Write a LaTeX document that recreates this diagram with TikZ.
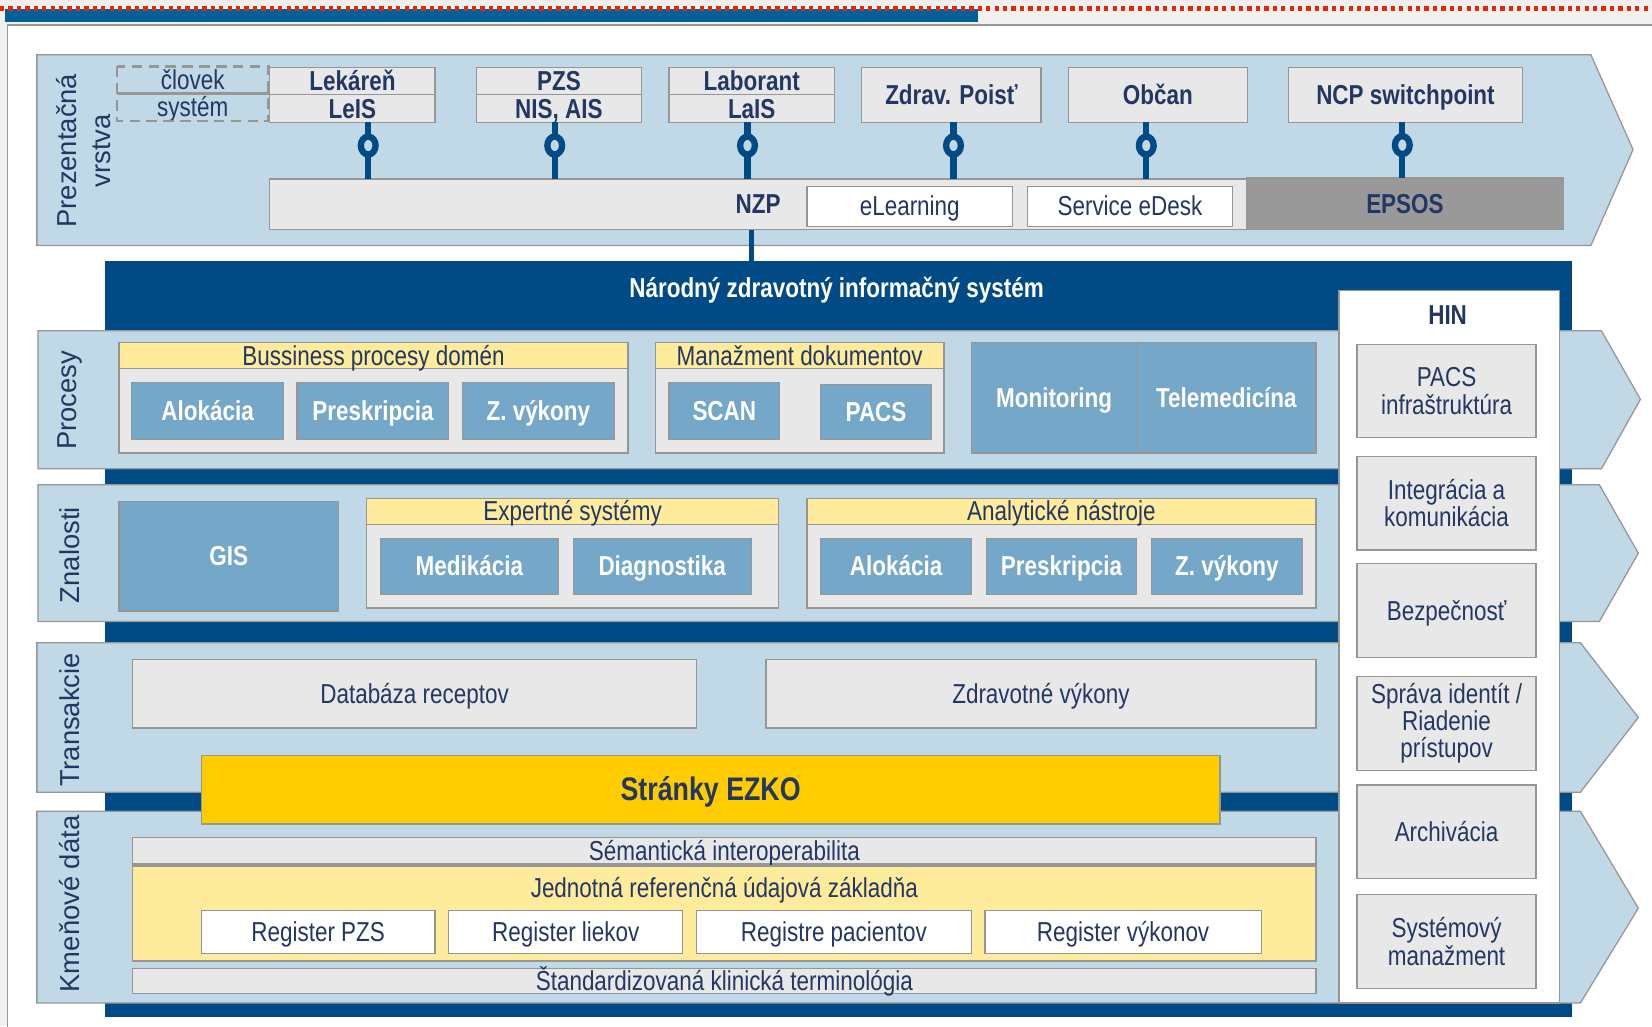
\documentclass[tikz,border=0pt]{standalone}
\usepackage{fontspec}
\setmainfont{Liberation Sans}[FakeStretch=0.82]
\newfontfamily\widesans{Liberation Sans}
\usetikzlibrary{shapes.geometric}

\definecolor{layerblue}{RGB}{193,216,230}
\definecolor{navy}{RGB}{0,74,134}
\definecolor{steel}{RGB}{116,167,200}
\definecolor{boxgray}{RGB}{232,232,232}
\definecolor{hdryellow}{RGB}{255,235,156}
\definecolor{ezkoyellow}{RGB}{255,204,0}
\definecolor{epsosgray}{RGB}{153,153,153}
\definecolor{inkblue}{RGB}{35,55,100}
\definecolor{linegray}{RGB}{150,150,150}
\definecolor{chrome}{RGB}{240,240,240}
\definecolor{barblue}{RGB}{0,96,154}
\definecolor{dotred}{RGB}{230,40,0}

\tikzset{
  sz/.style 2 args={minimum width=#1pt, minimum height=#2pt},
  txt/.style={inner sep=0pt, outer sep=0pt, text=inkblue, align=center, font=\fontsize{26}{26}\selectfont},
  boxbase/.style={txt, draw=linegray, line width=1.2pt},
  gbox/.style={boxbase, fill=boxgray},
  wbox/.style={boxbase, fill=white},
  ybox/.style={boxbase, fill=hdryellow},
  bbox/.style={boxbase, fill=steel, text=white, font=\fontsize{26}{26}\selectfont\bfseries},
  heavy/.style={font=\fontsize{26}{26}\selectfont\bfseries},
  oneline/.style={text height=21pt, text depth=3pt},
  lbl/.style={inner sep=0pt, text=inkblue, rotate=90, align=center, font=\widesans\fontsize{26}{32}\selectfont},
  layer/.style={fill=layerblue, draw=linegray, line width=1.2pt},
  link/.style={draw=navy, line width=6pt},
  ring/.style={ellipse, draw=navy, line width=6pt, fill=layerblue, minimum width=14pt, minimum height=17pt, inner sep=0pt}
}

\begin{document}
\begin{tikzpicture}[x=1pt, y=-1pt]
\useasboundingbox (0,0) rectangle (1568,974);

% window frame
\fill[chrome] (0,0) rectangle (1568,974);
\filldraw[fill=white, draw=linegray, line width=1.5pt] (7,24) rectangle (1580,990);
\fill[barblue] (5,9) rectangle (928,21);
\draw[dotred, line width=4pt, dash pattern=on 4pt off 4pt] (0,8) -- (1568,8);

% prezentacna vrstva
\draw[layer] (35,52) -- (1510,52) -- (1550,142) -- (1510,233) -- (35,233) -- cycle;
\node[lbl] (prez) at (79,143) {Prezentačná\\vrstva};
\node[txt, oneline, sz={144}{26}] (clov) at (183,76) {človek};
\node[txt, oneline, sz={144}{26}] (syst) at (183,102) {systém};
\draw[linegray, line width=2.5pt, dash pattern=on 10pt off 6pt] (clov.north west) rectangle (syst.south east);
\draw[linegray, line width=2.5pt] (clov.south west) -- (clov.south east);
\node[gbox, heavy, oneline, sz={157}{26}] (lek) at (334.5,77) {Lekáreň};
\node[gbox, heavy, oneline, sz={157}{26}] (leis) at (334.5,103) {LeIS};
\node[gbox, heavy, oneline, sz={157}{26}] (pzs) at (530.5,77) {PZS};
\node[gbox, heavy, oneline, sz={157}{26}] (nis) at (530.5,103) {NIS, AIS};
\node[gbox, heavy, oneline, sz={157}{26}] (lab) at (713.5,77) {Laborant};
\node[gbox, heavy, oneline, sz={157}{26}] (lais) at (713.5,103) {LaIS};
\node[gbox, heavy, oneline, sz={170}{52}] (poist) at (903,90) {Zdrav. Poisť};
\node[gbox, heavy, oneline, sz={170}{52}] (obcan) at (1099,90) {Občan};
\node[gbox, heavy, oneline, sz={222}{52}] (ncp) at (1334,90) {NCP switchpoint};
\node[gbox, heavy, oneline, sz={927}{48}] (nzp) at (719.5,194) {NZP};
\node[wbox, oneline, sz={195}{38}] (elearn) at (863.5,196) {eLearning};
\node[wbox, oneline, sz={195}{38}] (edesk) at (1072.5,196) {Service eDesk};
\node[boxbase, heavy, oneline, fill=epsosgray, sz={301}{49}] (epsos) at (1333.5,193.5) {EPSOS};

\foreach \b/\dx in {leis/15, nis/-4, lais/-4, poist/2, obcan/-11}
  \draw[link] ([xshift=\dx pt]\b.south) coordinate (top) -- (top |- nzp.north) node[ring, pos=.41] {};
\draw[link] ([xshift=-3pt]ncp.south) coordinate (top) -- (top |- epsos.north) node[ring, pos=.41] {};

% NZIS
\node[fill=navy, sz={1392}{717}, inner sep=0pt] (nzis) at (796,606.5) {};
\node[txt, heavy, oneline, text=white] (nzist) at (794,273) {Národný zdravotný informačný systém};
\draw[link, line width=5pt] ([xshift=-6.5pt]nzp.south) coordinate (bot) -- (bot |- nzis.north);

% vrstvy
\draw[layer] (36,314) -- (1520,314) -- (1557,379) -- (1520,445) -- (36,445) -- cycle;
\node[lbl] (proc) at (66,380) {Procesy};
\draw[layer] (36,460) -- (1518,460) -- (1555,525) -- (1518,590) -- (36,590) -- cycle;
\node[lbl] (znal) at (66,527) {Znalosti};
\draw[layer] (35,610) -- (1500,610) -- (1555,681) -- (1500,752) -- (35,752) -- cycle;
\node[lbl] (trans) at (66,683) {Transakcie};
\draw[layer] (35,770) -- (1500,770) -- (1555,862) -- (1500,952) -- (35,952) -- cycle;
\node[lbl] (kmen) at (66,858) {Kmeňové dáta};

% procesy
\node[gbox, sz={483}{105}] (bpd) at (354.5,377.5) {};
\node[ybox, oneline, sz={483}{25}] (bpdh) at (354.5,337.5) {Bussiness procesy domén};
\node[bbox, oneline, sz={144}{54}] (alok1) at (197,390) {Alokácia};
\node[bbox, oneline, sz={144}{54}] (presk1) at (354,390) {Preskripcia};
\node[bbox, oneline, sz={144}{54}] (zvyk1) at (511,390) {Z. výkony};
\node[gbox, sz={274}{105}] (mdok) at (759,377.5) {};
\node[ybox, oneline, sz={274}{25}] (mdokh) at (759,337.5) {Manažment dokumentov};
\node[bbox, oneline, sz={105}{54}] (scan) at (687.5,390) {SCAN};
\node[bbox, oneline, sz={105}{52}] (pacs1) at (831.5,391) {PACS};
\node[bbox, oneline, sz={157}{105}] (monit) at (1000.5,377.5) {Monitoring};
\node[bbox, oneline, sz={170}{105}] (telem) at (1164,377.5) {Telemedicína};

% znalosti
\node[bbox, oneline, sz={208}{104}] (gis) at (217,528) {GIS};
\node[gbox, sz={391}{104}] (exp) at (543.5,525) {};
\node[ybox, oneline, sz={391}{25}] (exph) at (543.5,485.5) {Expertné systémy};
\node[bbox, oneline, sz={169}{53}] (medik) at (445.5,537.5) {Medikácia};
\node[bbox, oneline, sz={169}{53}] (diag) at (628.5,537.5) {Diagnostika};
\node[gbox, sz={483}{104}] (anal) at (1007.5,525) {};
\node[ybox, oneline, sz={483}{25}] (analh) at (1007.5,485.5) {Analytické nástroje};
\node[bbox, oneline, sz={143}{53}] (alok2) at (850.5,537.5) {Alokácia};
\node[bbox, oneline, sz={143}{53}] (presk2) at (1007.5,537.5) {Preskripcia};
\node[bbox, oneline, sz={143}{53}] (zvyk2) at (1164.5,537.5) {Z. výkony};

% transakcie
\node[gbox, oneline, sz={535}{65}] (dbrec) at (393.5,658.5) {Databáza receptov};
\node[gbox, oneline, sz={522}{65}] (zdrv) at (988,658.5) {Zdravotné výkony};

% kmenove data
\node[gbox, oneline, sz={1123}{25}] (sem) at (687.5,807.5) {Sémantická interoperabilita};
\node[ybox, sz={1123}{90}] (jrz) at (687.5,867) {};
\node[txt, oneline] (jrzt) at (687.5,843) {Jednotná referenčná údajová základňa};
\node[wbox, oneline, sz={222}{41}] (rpzs) at (302,884.5) {Register PZS};
\node[wbox, oneline, sz={222}{41}] (rliek) at (537,884.5) {Register liekov};
\node[wbox, oneline, sz={261}{41}] (rpac) at (791.5,884.5) {Registre pacientov};
\node[wbox, oneline, sz={262}{41}] (rvyk) at (1066,884.5) {Register výkonov};
\node[gbox, oneline, sz={1123}{24}] (stk) at (687.5,931) {Štandardizovaná klinická terminológia};

\node[boxbase, fill=ezkoyellow, font=\fontsize{31}{31}\selectfont\bfseries, text height=25pt, text depth=4pt, sz={967}{65}] (ezko) at (674.5,749.5) {Stránky EZKO};

% HIN
\node[wbox, sz={209}{676}] (hin) at (1375.5,614) {};
\node[txt, heavy, oneline] (hint) at (1374,299) {HIN};
\node[gbox, sz={170}{88}] (pacs2) at (1373,371) {PACS\\infraštruktúra};
\node[gbox, sz={170}{89}] (integ) at (1373,477.5) {Integrácia a\\komunikácia};
\node[gbox, oneline, sz={170}{89}] (bezp) at (1373,579.5) {Bezpečnosť};
\node[gbox, sz={170}{89}] (sprava) at (1373,686.5) {Správa identít /\\Riadenie\\prístupov};
\node[gbox, oneline, sz={170}{89}] (arch) at (1373,789.5) {Archivácia};
\node[gbox, sz={170}{89}] (sysm) at (1373,893.5) {Systémový\\manažment};
\end{tikzpicture}
\end{document}
